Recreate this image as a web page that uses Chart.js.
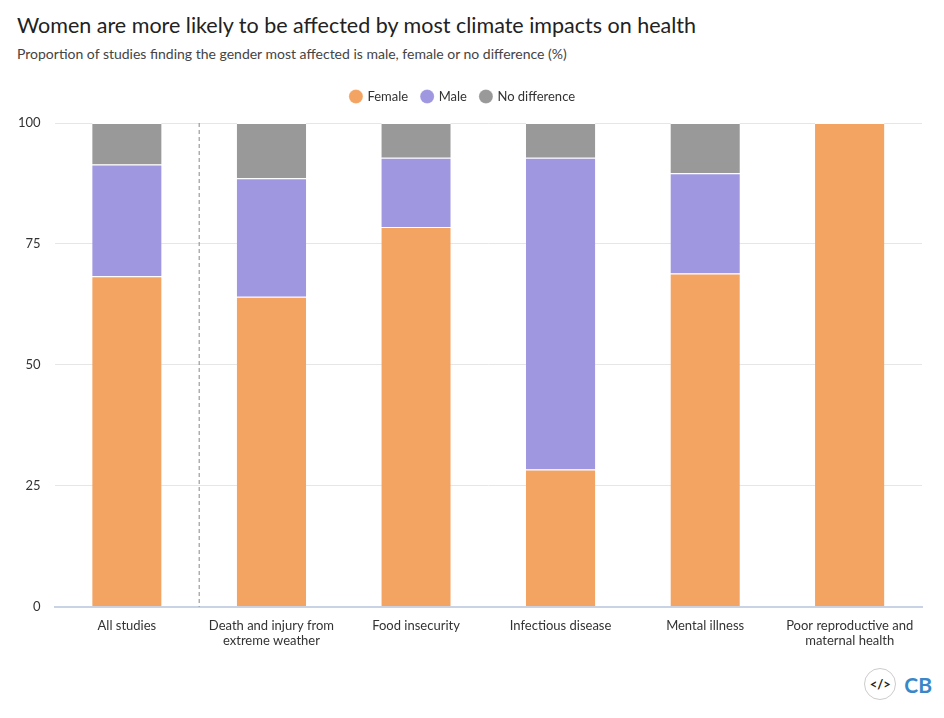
<!DOCTYPE html>
<html><head><meta charset="utf-8">
<script src="https://cdn.jsdelivr.net/npm/chart.js@4"></script>
<style>
body{margin:0;background:#fff;font-family:Lato,"Noto Sans",sans-serif;}
#t{position:absolute;left:17px;top:12px;font-size:21.5px;color:#222;}
#s{position:absolute;left:17px;top:45px;font-size:14px;color:#444;}
#w{position:absolute;left:0;top:76px;width:944px;height:586px;}
#logo{position:absolute;right:12px;top:668px;display:flex;align-items:center;gap:8px;}
#c1{width:30px;height:30px;border-radius:50%;border:1px solid #ccc;font-size:13px;font-weight:bold;display:flex;align-items:center;justify-content:center;color:#222}
#c2{font-size:21px;font-weight:bold;color:#3a87c8}
</style></head><body>
<div id="t">Women are more likely to be affected by most climate impacts on health</div>
<div id="s">Proportion of studies finding the gender most affected is male, female or no difference (%)</div>
<div id="w"><canvas id="c"></canvas></div>
<div id="logo"><div id="c1">&lt;/&gt;</div><div id="c2">CB</div></div>
<script>
const categories=[["All studies"],["Death and injury from","extreme weather"],["Food insecurity"],["Infectious disease"],["Mental illness"],["Poor reproductive and","maternal health"]];
const female=[68.3,64.1,78.5,28.4,68.9,100];
const male=[23.1,24.5,14.3,64.4,20.7,0];
const noDiff=[8.6,11.4,7.2,7.2,10.4,0];
const divider={id:'divider',afterDatasetsDraw(ch){const x=ch.scales.x,y=ch.scales.y;const px=(x.getPixelForValue(0)+x.getPixelForValue(1))/2;const c=ch.ctx;c.save();c.setLineDash([4,3]);c.strokeStyle='#888';c.lineWidth=1;c.beginPath();c.moveTo(px,y.getPixelForValue(100));c.lineTo(px,y.getPixelForValue(0));c.stroke();c.restore();}};
const legendGap={id:'legendGap',beforeInit(ch){const orig=ch.legend.fit;ch.legend.fit=function(){orig.bind(ch.legend)();this.height+=10;};}};
new Chart(document.getElementById('c'),{type:'bar',
data:{labels:categories,datasets:[
{label:'Female',data:female,backgroundColor:'#f4a462'},
{label:'Male',data:male,backgroundColor:'#9f98e0'},
{label:'No difference',data:noDiff,backgroundColor:'#999999'}]},
options:{responsive:true,maintainAspectRatio:false,animation:false,
layout:{padding:{left:4,right:22,bottom:10}},
datasets:{bar:{categoryPercentage:1,barPercentage:0.48,borderColor:'#fff',borderWidth:{top:1}}},
plugins:{legend:{labels:{usePointStyle:true,pointStyle:'circle',boxWidth:10,boxHeight:10,padding:14,font:{family:'Lato',size:13},color:'#333'}},tooltip:{enabled:false}},
scales:{x:{stacked:true,grid:{display:false},border:{color:'#c9d3e6',width:2},ticks:{font:{family:'Lato',size:13},color:'#333',maxRotation:0}},
y:{stacked:true,min:0,max:100,ticks:{stepSize:25,font:{family:'Lato',size:13},color:'#333',padding:14},border:{display:false},grid:{color:'#e6e6e6',drawTicks:false}}}}
,plugins:[divider,legendGap]});
</script></body></html>
